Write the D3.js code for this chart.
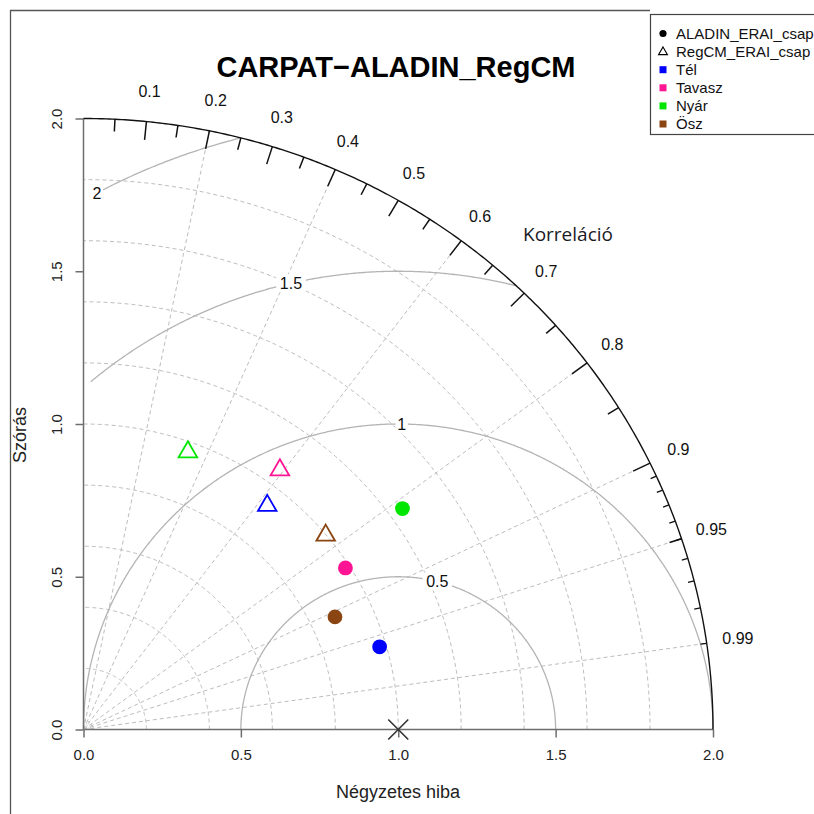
<!DOCTYPE html>
<html>
<head>
<meta charset="utf-8">
<script src="https://cdn.jsdelivr.net/npm/d3@7"></script>
<style>
  html, body { margin: 0; padding: 0; background: #fff; }
  svg { display: block; }
  text { font-family: "Liberation Sans", Arial, Helvetica, sans-serif; }
</style>
</head>
<body>
<svg id="chart" width="814" height="814"></svg>
<script>
// Taylor diagram: CARPAT-ALADIN vs RegCM precipitation, by season
const models = ["ALADIN_ERAI_csap", "RegCM_ERAI_csap"];
const seasons = ["Tél", "Tavasz", "Nyár", "Ösz"];
const seasonColors = ["#0000ff", "#ff1493", "#00e600", "#8b4513"];

// normalised standard deviation and correlation per season
const aladinSd  = [0.979, 0.986, 1.245, 0.880];
const aladinCor = [0.961, 0.844, 0.814, 0.908];
const regcmSd   = [0.937, 1.054, 0.967, 0.998];
const regcmCor  = [0.623, 0.592, 0.343, 0.771];

const refSd = 1.0;
const maxSd = 2.0;
const axisTicks = [0, 0.5, 1.0, 1.5, 2.0];
const axisTickLabels = ["0.0", "0.5", "1.0", "1.5", "2.0"];
const corrGridLines = [0.2, 0.4, 0.6, 0.8, 0.9, 0.95, 0.99];
const sdGridArcs = [0.2, 0.4, 0.6, 0.8, 1.0, 1.2, 1.4, 1.6, 1.8];
const gammaArcs = [0.5, 1, 1.5, 2];
const corrLabels = [0.1, 0.2, 0.3, 0.4, 0.5, 0.6, 0.7, 0.8, 0.9, 0.95, 0.99];
const bigTicks = [0.1, 0.2, 0.3, 0.4, 0.5, 0.6, 0.7, 0.8, 0.9];
const medTicks = [0.05, 0.15, 0.25, 0.35, 0.45, 0.55, 0.65, 0.75, 0.85, 0.95];
const smlTicks = [0.91, 0.92, 0.93, 0.94, 0.95, 0.96, 0.97, 0.98, 0.99];

const svg = d3.select("#chart");
const x = d3.scaleLinear().domain([0, maxSd]).range([83.5, 713]);
const y = d3.scaleLinear().domain([0, maxSd]).range([729.5, 118.5]);

const polar = (r, c) => [x(r * c), y(r * Math.sqrt(1 - c * c))];
const line = d3.line().x(d => x(d[0])).y(d => y(d[1]));

// outer frame
svg.append("path")
  .attr("d", "M10.5,814 L10.5,10.5 L650,10.5")
  .attr("fill", "none").attr("stroke", "#555").attr("stroke-width", 1.3);

const grid = svg.append("g");

// dashed standard-deviation arcs around the origin
sdGridArcs.forEach(r => {
  const pts = d3.range(0, Math.PI / 2 + 0.001, 0.01).map(t => [r * Math.cos(t), r * Math.sin(t)]);
  pts.push([0, r]);
  grid.append("path").attr("d", line(pts))
    .attr("fill", "none").attr("stroke", "#bdbdbd").attr("stroke-width", 1)
    .attr("stroke-dasharray", "4,3");
});
// tiny arcs at the origin
[0.018, 0.03].forEach(r => {
  const pts = d3.range(0, Math.PI / 2 + 0.001, 0.05).map(t => [r * Math.cos(t), r * Math.sin(t)]);
  grid.append("path").attr("d", line(pts))
    .attr("fill", "none").attr("stroke", "#bbb").attr("stroke-width", 1)
    .attr("stroke-dasharray", "2,2");
});

// dashed correlation rays
corrGridLines.forEach(c => {
  const [px, py] = polar(maxSd, c);
  grid.append("line")
    .attr("x1", x(0)).attr("y1", y(0)).attr("x2", px).attr("y2", py)
    .attr("stroke", "#bdbdbd").attr("stroke-width", 1).attr("stroke-dasharray", "4,3");
});

// centred RMS difference arcs around the reference point
gammaArcs.forEach(g => {
  const minX = g > refSd ? 0.02 : 0;
  const pts = d3.range(0, Math.PI + 0.0001, 0.004)
    .map(t => [refSd + g * Math.cos(t), g * Math.sin(t)])
    .filter(p => p[0] >= minX - 1e-9 && p[0] * p[0] + p[1] * p[1] <= maxSd * maxSd + 1e-9);
  if (g === refSd) pts.push([0, 0]);
  grid.append("path").attr("d", line(pts))
    .attr("fill", "none").attr("stroke", "#b4b4b4").attr("stroke-width", 1.3);
});

// axes
const axisCol = "#6e6e6e";
svg.append("line").attr("x1", x(0)).attr("y1", y(0)).attr("x2", x(maxSd)).attr("y2", y(0))
  .attr("stroke", axisCol).attr("stroke-width", 1.5);
svg.append("line").attr("x1", x(0)).attr("y1", y(0)).attr("x2", x(0)).attr("y2", y(maxSd))
  .attr("stroke", axisCol).attr("stroke-width", 1.5);

const xAxis = d3.axisBottom(x).tickValues(axisTicks).tickFormat((d, i) => axisTickLabels[i])
  .tickSize(8).tickPadding(12);
const gx = svg.append("g").attr("transform", `translate(0,${y(0)})`).call(xAxis);
gx.select(".domain").remove();
gx.selectAll(".tick line").attr("stroke", axisCol).attr("stroke-width", 1.5);
gx.selectAll(".tick text").attr("font-size", 15).attr("fill", "#222")
  .attr("font-family", "Liberation Sans, Arial, sans-serif");

const yAxis = d3.axisLeft(y).tickValues(axisTicks).tickFormat((d, i) => axisTickLabels[i])
  .tickSize(8).tickPadding(0);
const gy = svg.append("g").attr("transform", `translate(${x(0)},0)`).call(yAxis);
gy.select(".domain").remove();
gy.selectAll(".tick line").attr("stroke", axisCol).attr("stroke-width", 1.5);
gy.selectAll(".tick text").attr("font-size", 15).attr("fill", "#222")
  .attr("font-family", "Liberation Sans, Arial, sans-serif")
  .attr("text-anchor", "middle").attr("dy", null)
  .attr("x", -27).attr("y", 0)
  .attr("transform", "rotate(-90,-27,0)").attr("dominant-baseline", "central");

// outer standard deviation arc
{
  const pts = d3.range(0, Math.PI / 2 + 0.0001, 0.005).map(t => [maxSd * Math.cos(t), maxSd * Math.sin(t)]);
  pts.push([0, maxSd]);
  svg.append("path").attr("d", line(pts)).attr("fill", "none")
    .attr("stroke", "#111").attr("stroke-width", 1.4);
}

// correlation ticks
const drawTicks = (vals, frac, w) => vals.forEach(c => {
  const [x1, y1] = polar(maxSd, c);
  const [x2, y2] = polar(maxSd * frac, c);
  svg.append("line").attr("x1", x1).attr("y1", y1).attr("x2", x2).attr("y2", y2)
    .attr("stroke", "#111").attr("stroke-width", w);
});
drawTicks(bigTicks, 0.97, 1.5);
drawTicks(medTicks, 0.98, 1.5);
drawTicks(smlTicks, 0.99, 1.3);

// correlation labels
corrLabels.forEach(c => {
  const [px, py] = polar(maxSd * 1.05, c);
  svg.append("text").attr("x", px).attr("y", py)
    .attr("text-anchor", "middle").attr("dominant-baseline", "central")
    .attr("font-size", 16).attr("fill", "#111").text(String(c));
});

// RMS difference labels on white boxes
const labelPos = [45, 53, 61, 70];
gammaArcs.forEach((g, i) => {
  const t = 0.03 * (labelPos[i] - 1);
  const gx0 = refSd + g * Math.cos(t), gy0 = g * Math.sin(t);
  const lbl = String(g);
  const w = lbl.length * 8.5 + 4;
  svg.append("rect").attr("x", x(gx0) - w / 2).attr("y", y(gy0) - 9)
    .attr("width", w).attr("height", 18).attr("fill", "#fff");
  svg.append("text").attr("x", x(gx0)).attr("y", y(gy0))
    .attr("text-anchor", "middle").attr("dominant-baseline", "central")
    .attr("font-size", 16).attr("fill", "#111").text(lbl);
});

// reference point
{
  const cx = x(refSd), cy = y(0), s = 10;
  svg.append("path").attr("d", `M${cx - s},${cy - s}L${cx + s},${cy + s}M${cx - s},${cy + s}L${cx + s},${cy - s}`)
    .attr("stroke", "#333").attr("stroke-width", 1.6).attr("fill", "none");
}

// model points
const triPath = (cx, cy, R) => {
  const top = 1.5551 * R, half = 1.3468 * R, bot = 0.7776 * R;
  return `M${cx},${cy - top}L${cx + half},${cy + bot}L${cx - half},${cy + bot}Z`;
};
regcmSd.forEach((sd, i) => {
  const [px, py] = polar(sd, regcmCor[i]);
  svg.append("path").attr("d", triPath(px, py, 6.9))
    .attr("fill", "none").attr("stroke", seasonColors[i]).attr("stroke-width", 1.8);
});
aladinSd.forEach((sd, i) => {
  const [px, py] = polar(sd, aladinCor[i]);
  svg.append("circle").attr("cx", px).attr("cy", py).attr("r", 7.4)
    .attr("fill", seasonColors[i]);
});

// titles
svg.append("text").attr("x", 396).attr("y", 77).attr("text-anchor", "middle")
  .attr("font-size", 29).attr("font-weight", "bold").attr("fill", "#000")
  .text("CARPAT\u2212ALADIN_RegCM");
svg.append("text").attr("x", 398).attr("y", 798).attr("text-anchor", "middle")
  .attr("font-size", 18).attr("fill", "#222").text("Négyzetes hiba");
svg.append("text").attr("transform", "translate(26,435) rotate(-90)").attr("text-anchor", "middle")
  .attr("font-size", 18).attr("fill", "#222").text("Szórás");
svg.append("text").attr("x", 568).attr("y", 241).attr("text-anchor", "middle")
  .attr("font-size", 19).attr("fill", "#1a1a24")
  .style("font-family", "'Open Sans', 'Noto Sans', sans-serif").text("Korreláció");

// legend
const lg = svg.append("g");
lg.append("rect").attr("x", 650.5).attr("y", 14.5).attr("width", 200).attr("height", 120)
  .attr("fill", "#fff").attr("stroke", "#444").attr("stroke-width", 1.2);
const rowY = i => 33.5 + i * 18.1;
const legendItems = models.concat(seasons);
legendItems.forEach((label, i) => {
  const cy = rowY(i), cx = 663;
  if (i === 0) {
    lg.append("circle").attr("cx", cx).attr("cy", cy).attr("r", 3.6).attr("fill", "#000");
  } else if (i === 1) {
    lg.append("path").attr("d", triPath(cx, cy + 0.5, 3.3)).attr("fill", "none")
      .attr("stroke", "#000").attr("stroke-width", 1.1);
  } else {
    lg.append("rect").attr("x", cx - 3.5).attr("y", cy - 3.5).attr("width", 7).attr("height", 7)
      .attr("fill", seasonColors[i - 2]);
  }
  lg.append("text").attr("x", 676).attr("y", cy + 5.3)
    .attr("font-size", 15).attr("fill", "#111").text(label);
});
</script>
</body>
</html>
